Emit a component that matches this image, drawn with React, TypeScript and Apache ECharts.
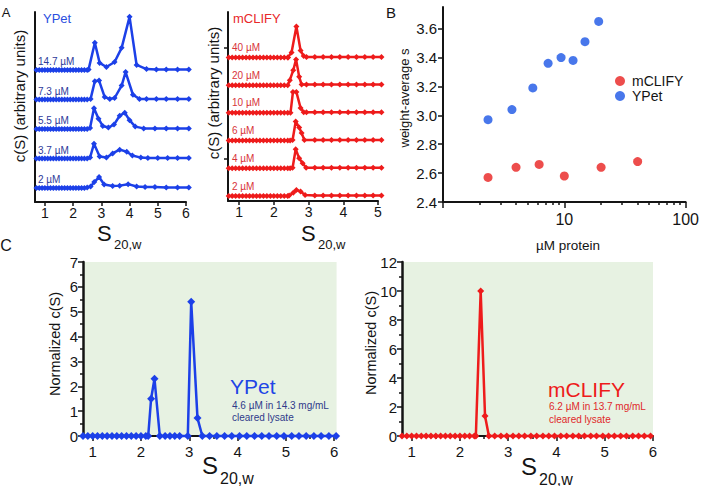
import React, { useEffect, useRef } from "react";
import * as echarts from "echarts";

// ---------------- Panel A : YPet stacked c(S) traces ----------------
const ypetConcLabels = ["2 µM", "3.7 µM", "5.5 µM", "7.3 µM", "14.7 µM"];
const ypetLowS = [0.7, 0.8, 0.9, 1.0, 1.1, 1.2, 1.3, 1.4, 1.5, 1.6, 1.7, 1.8, 1.9, 2.0, 2.1, 2.2, 2.3, 2.4];
const ypetLowC = [0, 0, 0, 0, 0, 0, 0, 0, 0, 0, 0, 0, 0, 0, 0, 0, 0, 0];
const ypet2S = [2.5, 2.62, 2.75, 2.92, 3.1, 3.4, 3.65, 3.95, 4.25, 4.55, 4.9, 5.3, 5.7, 6.1];
const ypet2C = [0.02, 0.05, 0.2, 0.37, 0.12, 0.07, 0.08, 0.13, 0.05, 0.03, 0.03, 0.02, 0.02, 0.02];
const ypet37S = [2.5, 2.6, 2.74, 2.94, 3.18, 3.4, 3.65, 3.9, 4.1, 4.4, 4.65, 5.0, 5.35, 5.7, 6.1];
const ypet37C = [0, 0.03, 0.5, 0.07, 0.03, 0.17, 0.3, 0.23, 0.1, 0.03, 0.02, 0.02, 0.02, 0.02, 0.02];
const ypet55S = [2.5, 2.6, 2.74, 2.9, 3.05, 3.25, 3.45, 3.65, 3.83, 4.0, 4.2, 4.5, 4.9, 5.3, 5.7, 6.1];
const ypet55C = [0, 0.03, 0.7, 0.35, 0.1, 0.05, 0.15, 0.45, 0.55, 0.3, 0.08, 0.02, 0.02, 0.02, 0.02, 0.02];
const ypet73S = [2.5, 2.62, 2.77, 2.92, 3.12, 3.3, 3.47, 3.72, 3.86, 4.12, 4.35, 4.6, 4.95, 5.3, 5.7, 6.1];
const ypet73C = [0, 0.02, 0.62, 0.64, 0.08, 0.02, 0.05, 0.47, 0.93, 0.16, 0.02, 0.02, 0.02, 0.02, 0.02, 0.02];
const ypet147S = [2.5, 2.55, 2.77, 2.94, 3.18, 3.47, 3.72, 4.0, 4.25, 4.6, 4.95, 5.3, 5.7, 6.1];
const ypet147C = [0, 0.02, 0.92, 0.24, 0.1, 0.27, 0.75, 1.8, 0.17, 0.03, 0.02, 0.02, 0.02, 0.02];
const ypetTracesS = [ypet2S, ypet37S, ypet55S, ypet73S, ypet147S];
const ypetTracesC = [ypet2C, ypet37C, ypet55C, ypet73C, ypet147C];

// ---------------- Panel A : mCLIFY stacked c(S) traces ----------------
const mclifyConcLabels = ["2 µM", "4 µM", "6 µM", "10 µM", "20 µM", "40 µM"];
const mclifyLowS = [0.7, 0.8, 0.9, 1.0, 1.1, 1.2, 1.3, 1.4, 1.5, 1.6, 1.7, 1.8, 1.9, 2.0, 2.1, 2.2, 2.3, 2.4];
const mclifyLowC = [0, 0, 0, 0, 0, 0, 0, 0, 0, 0, 0, 0, 0, 0, 0, 0, 0, 0];
const mcl2S = [2.44, 2.56, 2.65, 2.77, 2.9, 3.18, 3.42, 3.66, 3.9, 4.14, 4.38, 4.62, 4.86, 5.1];
const mcl2C = [0.02, 0.12, 0.22, 0.16, 0.04, 0.02, 0.02, 0.02, 0.02, 0.02, 0.02, 0.02, 0.02, 0.02];
const mcl4S = [2.47, 2.54, 2.63, 2.73, 2.83, 2.93, 3.18, 3.42, 3.66, 3.9, 4.14, 4.38, 4.62, 4.86, 5.1];
const mcl4C = [0, 0.02, 0.69, 0.36, 0.18, 0.02, 0.02, 0.02, 0.02, 0.02, 0.02, 0.02, 0.02, 0.02, 0.02];
const mcl6S = [2.47, 2.54, 2.63, 2.73, 2.8, 2.88, 3.18, 3.42, 3.66, 3.9, 4.14, 4.38, 4.62, 4.86, 5.1];
const mcl6C = [0, 0.02, 0.69, 0.47, 0.27, 0.02, 0.02, 0.02, 0.02, 0.02, 0.02, 0.02, 0.02, 0.02, 0.02];
const mcl10S = [2.48, 2.55, 2.65, 2.77, 2.86, 2.94, 3.18, 3.42, 3.66, 3.9, 4.14, 4.38, 4.62, 4.86, 5.1];
const mcl10C = [0, 0.75, 0.75, 0.18, 0.02, 0.02, 0.02, 0.02, 0.02, 0.02, 0.02, 0.02, 0.02, 0.02, 0.02];
const mcl20S = [2.46, 2.56, 2.64, 2.73, 2.8, 2.94, 3.18, 3.42, 3.66, 3.9, 4.14, 4.38, 4.62, 4.86, 5.1];
const mcl20C = [0.18, 0.54, 0.93, 0.3, 0.02, 0.02, 0.02, 0.02, 0.02, 0.02, 0.02, 0.02, 0.02, 0.02, 0.02];
const mcl40S = [2.41, 2.51, 2.65, 2.77, 2.86, 2.94, 3.18, 3.42, 3.66, 3.9, 4.14, 4.38, 4.62, 4.86, 5.1];
const mcl40C = [0, 0.18, 1.12, 0.25, 0.05, 0.02, 0.02, 0.02, 0.02, 0.02, 0.02, 0.02, 0.02, 0.02, 0.02];
const mclifyTracesS = [mcl2S, mcl4S, mcl6S, mcl10S, mcl20S, mcl40S];
const mclifyTracesC = [mcl2C, mcl4C, mcl6C, mcl10C, mcl20C, mcl40C];

// ---------------- Panel B : weight-average s vs concentration ----------------
const bMclifyConc = [2.35, 4.0, 6.2, 10.0, 20.1, 40.2];
const bMclifyS = [2.57, 2.64, 2.66, 2.58, 2.64, 2.68];
const bYpetConc = [2.35, 3.7, 5.5, 7.35, 9.4, 11.8, 14.8, 19.2];
const bYpetS = [2.97, 3.04, 3.19, 3.36, 3.4, 3.38, 3.51, 3.65];
const bYTicks = [2.4, 2.6, 2.8, 3.0, 3.2, 3.4, 3.6];
const bXMajor = [1, 10, 100];
const bXLabels = [10, 100];
const bXMinor = [2, 3, 4, 5, 6, 7, 8, 9, 20, 30, 40, 50, 60, 70, 80, 90];

// ---------------- Panel C : normalized c(S) in cleared lysate ----------------
const cYpetS = [0.8, 0.9, 1.0, 1.1, 1.2, 1.3, 1.4, 1.5, 1.6, 1.7, 1.8, 1.9, 2.0, 2.1,
  2.15, 2.21, 2.28, 2.39, 2.5, 2.6, 2.7, 2.8, 2.97, 3.04, 3.17,
  3.27, 3.42, 3.57, 3.73, 3.88, 4.04, 4.19, 4.35, 4.5, 4.65, 4.81, 4.96, 5.12, 5.27, 5.42, 5.58, 5.73, 5.89, 6.04];
const cYpetC = [0, 0, 0, 0, 0, 0, 0, 0, 0, 0, 0, 0, 0, 0,
  0, 1.5, 2.3, 0, 0, 0, 0, 0, 0, 5.4, 0.72,
  0, 0, 0, 0, 0, 0, 0, 0, 0, 0, 0, 0, 0, 0, 0, 0, 0, 0, 0];
const cMclifyS = [0.8, 0.9, 1.0, 1.1, 1.2, 1.3, 1.4, 1.5, 1.6, 1.7, 1.8, 1.9, 2.0, 2.1, 2.2, 2.3,
  2.33, 2.43, 2.52, 2.6,
  2.72, 2.85, 2.97, 3.1, 3.22, 3.34, 3.47, 3.59, 3.72, 3.84, 3.96, 4.09, 4.21, 4.34, 4.46, 4.58, 4.71, 4.83, 4.96, 5.08, 5.2, 5.33, 5.45, 5.58, 5.7, 5.82, 5.95];
const cMclifyC = [0, 0, 0, 0, 0, 0, 0, 0, 0, 0, 0, 0, 0, 0, 0, 0,
  0, 10, 1.38, 0,
  0, 0, 0, 0, 0, 0, 0, 0, 0, 0, 0, 0, 0, 0, 0, 0, 0, 0, 0, 0, 0, 0, 0, 0, 0, 0, 0];
const cXTicksL = [1, 2, 3, 4, 5, 6];
const cXMinor = [1.5, 2.5, 3.5, 4.5, 5.5];
const aXTicksL = [1, 2, 3, 4, 5, 6];
const aXTicksR = [1, 2, 3, 4, 5];

// ---------------- layout & style ----------------
const FONT = '"Liberation Sans", Arial, Helvetica, sans-serif';
const BLACK = "#141414";
const BLUE = "#1c40e8";
const RED = "#ee1b1b";
const GREEN_BG = "#e7f2e2";

const GA_L = { left: 35, top: 12, width: 151, height: 190, xMin: 0.65, xMax: 6.0, yMin: 0, yMax: 6.44 };
const GA_R = { left: 228, top: 12, width: 150, height: 189, xMin: 0.68, xMax: 5.0, yMin: 0, yMax: 6.82 };
const GB = { left: 443, top: 7, width: 243, height: 195 };
const GC_L = { left: 83, top: 262, width: 253.6, height: 174 };
const GC_R = { left: 402, top: 262, width: 251, height: 174 };
const ypetOffsets = [0.475, 1.475, 2.475, 3.475, 4.475];
const mclifyOffsets = [0.18, 1.18, 2.18, 3.18, 4.18, 5.18];
const mclifyYTicks = [1.52, 5.52];

function yPx(g: any, v: number) {
  return g.top + (g.height * (g.yMax - v)) / (g.yMax - g.yMin);
}

function T(text: string, x: number, y: number, size: number, color: string, align = "left", rot = 0) {
  return {
    type: "text",
    x,
    y,
    rotation: rot,
    silent: true,
    z: 100,
    style: {
      text,
      fill: color,
      font: `${size}px ${FONT}`,
      fontSize: size,
      fontFamily: FONT,
      align,
      verticalAlign: "middle",
      textAlign: align,
      textVerticalAlign: "middle",
    },
  };
}

const axisLineStyle = { color: BLACK, width: 2 };
const tickStyle = { color: BLACK, width: 1.5 };

function valueX(gridIndex: number, min: number, max: number, ticks: number[], labels: number[] | null, fontSize: number, margin: number, tickLen: number) {
  return {
    type: "value",
    gridIndex,
    min,
    max,
    position: "bottom",
    axisLine: { show: true, onZero: false, lineStyle: axisLineStyle },
    axisTick: { show: true, customValues: ticks, length: tickLen, lineStyle: tickStyle },
    axisLabel: labels
      ? { show: true, customValues: labels, fontSize, color: BLACK, fontFamily: FONT, margin }
      : { show: false },
    splitLine: { show: false },
  };
}

function minorX(gridIndex: number, min: number, max: number, ticks: number[], type = "value") {
  return {
    type,
    gridIndex,
    min,
    max,
    position: "bottom",
    axisLine: { show: false, onZero: false },
    axisTick: { show: true, customValues: ticks, length: 3, lineStyle: tickStyle },
    axisLabel: { show: false },
    splitLine: { show: false },
  };
}

export default function App() {
  const ref = useRef<HTMLDivElement>(null);

  useEffect(() => {
    if (!ref.current) return;
    const chart = echarts.init(ref.current, undefined, { renderer: "svg" });

    const series: any[] = [];
    // Panel A YPet
    ypetTracesS.forEach((sArr, i) => {
      const off = ypetOffsets[i];
      const data = [
        ...ypetLowS.map((s, j) => [s, ypetLowC[j] + off]),
        ...sArr.map((s, j) => [s, ypetTracesC[i][j] + off]),
      ];
      series.push({
        name: "ypetA" + i,
        type: "line",
        xAxisIndex: 0,
        yAxisIndex: 0,
        data,
        clip: false,
        symbol: "diamond",
        symbolSize: 6,
        showAllSymbol: true,
        itemStyle: { color: BLUE },
        lineStyle: { color: BLUE, width: 2.5 },
        silent: true,
      });
    });
    // Panel A mCLIFY
    mclifyTracesS.forEach((sArr, i) => {
      const off = mclifyOffsets[i];
      const data = [
        ...mclifyLowS.map((s, j) => [s, mclifyLowC[j] + off]),
        ...sArr.map((s, j) => [s, mclifyTracesC[i][j] + off]),
      ];
      series.push({
        name: "mclifyA" + i,
        type: "line",
        xAxisIndex: 1,
        yAxisIndex: 1,
        data,
        clip: false,
        symbol: "diamond",
        symbolSize: 6,
        showAllSymbol: true,
        itemStyle: { color: RED },
        lineStyle: { color: RED, width: 2.5 },
        silent: true,
      });
    });
    // Panel B
    series.push({
      name: "mCLIFY",
      type: "scatter",
      xAxisIndex: 2,
      yAxisIndex: 2,
      data: bMclifyConc.map((c, i) => [c, bMclifyS[i]]),
      symbol: "circle",
      symbolSize: 9,
      itemStyle: { color: "#e8201f" },
      silent: true,
    });
    series.push({
      name: "YPet",
      type: "scatter",
      xAxisIndex: 2,
      yAxisIndex: 2,
      data: bYpetConc.map((c, i) => [c, bYpetS[i]]),
      symbol: "circle",
      symbolSize: 9,
      itemStyle: { color: "#1a55e6" },
      silent: true,
    });
    // Panel C
    series.push({
      name: "ypetC",
      type: "line",
      xAxisIndex: 4,
      yAxisIndex: 3,
      data: cYpetS.map((s, i) => [s, cYpetC[i]]),
      clip: false,
      symbol: "diamond",
      symbolSize: 8,
      showAllSymbol: true,
      itemStyle: { color: BLUE },
      lineStyle: { color: BLUE, width: 2.5 },
      silent: true,
      z: 5,
    });
    series.push({
      name: "mclifyC",
      type: "line",
      xAxisIndex: 6,
      yAxisIndex: 4,
      data: cMclifyS.map((s, i) => [s, cMclifyC[i]]),
      clip: false,
      symbol: "diamond",
      symbolSize: 7,
      showAllSymbol: true,
      itemStyle: { color: RED },
      lineStyle: { color: RED, width: 2.5 },
      silent: true,
      z: 5,
    });

    const graphic: any[] = [
      T("A", 6, 12, 13, BLACK, "center"),
      T("B", 391, 12, 15, BLACK, "center"),
      T("C", 6, 245, 16, BLACK, "center"),
      T("YPet", 43, 18, 13, "#2a4fe0"),
      T("mCLIFY", 233, 18, 13, "#e8282a"),
      T("c(S) (arbitrary units)", 19, 96, 15, BLACK, "center", Math.PI / 2),
      T("c(S) (arbitrary units)", 213, 93, 15, BLACK, "center", Math.PI / 2),
      T("S", 97, 233, 22, BLACK),
      T("20,w", 114, 244, 13, BLACK),
      T("S", 301, 233, 22, BLACK),
      T("20,w", 318, 244, 13, BLACK),
      T("weight-average s", 404, 98, 13, BLACK, "center", Math.PI / 2),
      T("µM protein", 568, 245, 13.5, BLACK, "center"),
      T("Normalized c(S)", 55, 344, 14.5, BLACK, "center", Math.PI / 2),
      T("Normalized c(S)", 371, 343, 14.5, BLACK, "center", Math.PI / 2),
      T("S", 202, 465, 24, BLACK),
      T("20,w", 220, 478, 16, BLACK),
      T("S", 521, 466, 24, BLACK),
      T("20,w", 539, 479, 16, BLACK),
      T("YPet", 230, 386, 21, "#1f45e6"),
      T("4.6 µM in 14.3 mg/mL", 232, 405, 10, "#2f3a8a"),
      T("cleared lysate", 232, 417, 10, "#2f3a8a"),
      T("mCLIFY", 548, 389, 21, RED),
      T("6.2 µM in 13.7 mg/mL", 549, 406, 10, "#e0282a"),
      T("cleared lysate", 549, 419, 10, "#e0282a"),
    ];
    ypetConcLabels.forEach((lab, i) => {
      graphic.push(T(lab, 38, yPx(GA_L, ypetOffsets[i]) - 8, 10, "#2e3a9a"));
    });
    mclifyConcLabels.forEach((lab, i) => {
      graphic.push(T(lab, 232, yPx(GA_R, mclifyOffsets[i]) - 10, 10, "#d8343a"));
    });

    const option: any = {
      animation: false,
      backgroundColor: "#ffffff",
      textStyle: { fontFamily: FONT },
      grid: [
        { left: GA_L.left, top: GA_L.top, width: GA_L.width, height: GA_L.height, containLabel: false },
        { left: GA_R.left, top: GA_R.top, width: GA_R.width, height: GA_R.height, containLabel: false },
        { left: GB.left, top: GB.top, width: GB.width, height: GB.height, containLabel: false },
        { left: GC_L.left, top: GC_L.top, width: GC_L.width, height: GC_L.height, show: true, backgroundColor: GREEN_BG, borderWidth: 0 },
        { left: GC_R.left, top: GC_R.top, width: GC_R.width, height: GC_R.height, show: true, backgroundColor: GREEN_BG, borderWidth: 0 },
      ],
      legend: {
        data: ["mCLIFY", "YPet"],
        orient: "vertical",
        left: 615,
        top: 74,
        padding: 0,
        itemWidth: 14,
        itemHeight: 10,
        itemGap: 1,
        icon: "circle",
        selectedMode: false,
        textStyle: { fontSize: 14, color: BLACK, fontFamily: FONT, lineHeight: 12 },
      },
      xAxis: [
        valueX(0, GA_L.xMin, GA_L.xMax, aXTicksL, aXTicksL, 14, 4, 4),
        valueX(1, GA_R.xMin, GA_R.xMax, aXTicksR, aXTicksR, 14, 4, 4),
        {
          type: "log",
          logBase: 10,
          gridIndex: 2,
          min: 1,
          max: 100,
          position: "bottom",
          axisLine: { show: true, onZero: false, lineStyle: axisLineStyle },
          axisTick: { show: true, customValues: bXMajor, length: 6, lineStyle: tickStyle },
          axisLabel: { show: true, customValues: bXLabels, fontSize: 16, color: BLACK, fontFamily: FONT, margin: 9 },
          splitLine: { show: false },
        },
        minorX(2, 1, 100, bXMinor, "log"),
        valueX(3, 0.8, 6.05, cXTicksL, cXTicksL, 15, 8, 5),
        minorX(3, 0.8, 6.05, cXMinor),
        valueX(4, 0.8, 6.0, cXTicksL, cXTicksL, 15, 8, 5),
        minorX(4, 0.8, 6.0, cXMinor),
      ],
      yAxis: [
        {
          type: "value",
          gridIndex: 0,
          min: GA_L.yMin,
          max: GA_L.yMax,
          axisLine: { show: true, onZero: false, lineStyle: axisLineStyle },
          axisTick: { show: false },
          axisLabel: { show: false },
          splitLine: { show: false },
        },
        {
          type: "value",
          gridIndex: 1,
          min: GA_R.yMin,
          max: GA_R.yMax,
          axisLine: { show: true, onZero: false, lineStyle: axisLineStyle },
          axisTick: { show: true, customValues: mclifyYTicks, length: 4, lineStyle: tickStyle },
          axisLabel: { show: false },
          splitLine: { show: false },
        },
        {
          type: "value",
          gridIndex: 2,
          min: 2.4,
          max: 3.75,
          axisLine: { show: true, onZero: false, lineStyle: axisLineStyle },
          axisTick: { show: true, customValues: bYTicks, length: 5, lineStyle: tickStyle },
          axisLabel: {
            show: true,
            customValues: bYTicks,
            fontSize: 15,
            color: BLACK,
            fontFamily: FONT,
            margin: 6,
            formatter: (v: number) => v.toFixed(1),
          },
          splitLine: { show: false },
        },
        {
          type: "value",
          gridIndex: 3,
          min: 0,
          max: 7,
          interval: 1,
          axisLine: { show: true, onZero: false, lineStyle: { color: BLACK, width: 2.5 } },
          axisTick: { show: true, length: 5, lineStyle: tickStyle },
          minorTick: { show: true, splitNumber: 2, length: 3, lineStyle: tickStyle },
          axisLabel: { show: true, fontSize: 15, color: BLACK, fontFamily: FONT, margin: 5 },
          splitLine: { show: false },
          minorSplitLine: { show: false },
        },
        {
          type: "value",
          gridIndex: 4,
          min: 0,
          max: 12,
          interval: 2,
          axisLine: { show: true, onZero: false, lineStyle: { color: BLACK, width: 2.5 } },
          axisTick: { show: true, length: 5, lineStyle: tickStyle },
          minorTick: { show: true, splitNumber: 2, length: 3, lineStyle: tickStyle },
          axisLabel: { show: true, fontSize: 15, color: BLACK, fontFamily: FONT, margin: 5 },
          splitLine: { show: false },
          minorSplitLine: { show: false },
        },
      ],
      series,
      graphic,
    };

    chart.setOption(option);
    return () => {
      chart.dispose();
    };
  }, []);

  return (
    <div
      ref={ref}
      style={{ position: "fixed", left: 0, top: 0, width: 702, height: 486, background: "#fff" }}
    />
  );
}
